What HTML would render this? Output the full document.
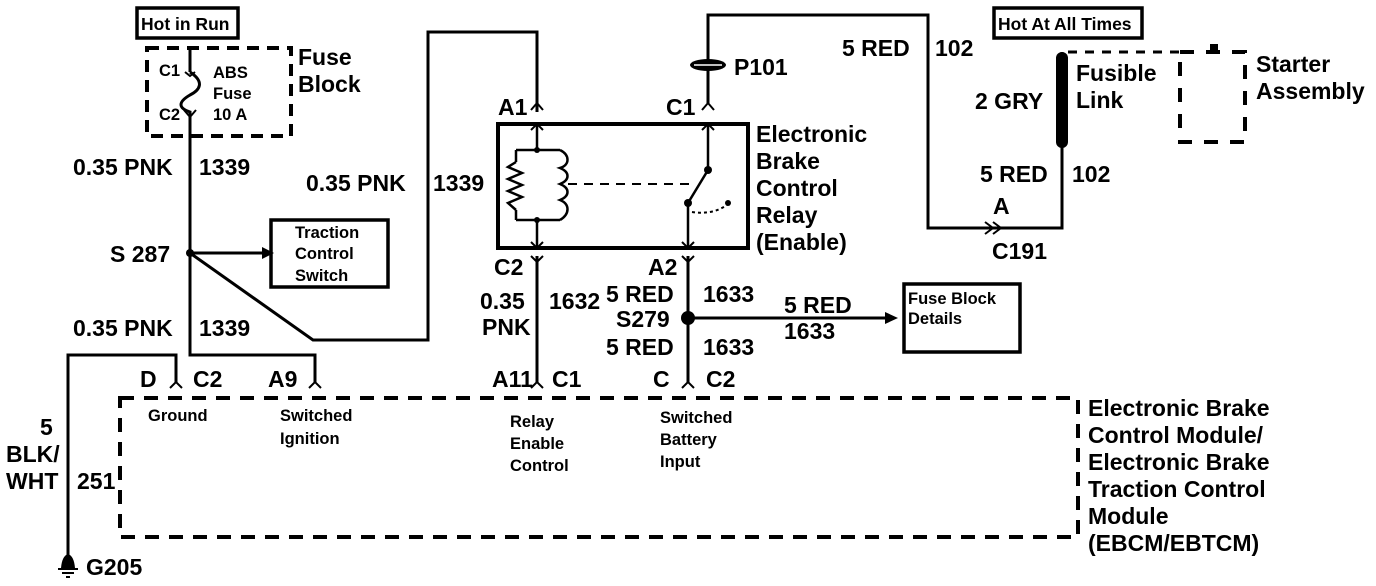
<!DOCTYPE html>
<html><head><meta charset="utf-8"><style>
html,body{margin:0;padding:0;background:#fff}
svg{display:block}
text{font-family:"Liberation Sans",sans-serif;font-weight:bold;fill:#000}
.b{font-size:23px}
.s{font-size:16.5px}
</style></head><body>
<svg width="1376" height="586" viewBox="0 0 1376 586" xmlns="http://www.w3.org/2000/svg">
<g fill="none" stroke="#000" stroke-width="3">
<rect x="137" y="8" width="101" height="30" stroke-width="3.5"/>
<rect x="147" y="48" width="144" height="88" stroke-dasharray="12,8" stroke-width="4"/>
<path d="M190 48 V72 M190 72 C205 82,200 90,190 95 C178 102,178 108,190 112 V355 H315 V382"/>
<path d="M185 72 L190 76 L195 72" stroke-width="2"/>
<path d="M184 110 L190 117 L196 110" stroke-width="2"/>
<path d="M190 253 H262"/>
<path d="M190 253 L313 340 H428 V32 H537 V112"/>
<rect x="271" y="220" width="117" height="67" stroke-width="3.5"/>
<path d="M68 560 V355 H176 V382"/>
<rect x="498" y="124" width="250" height="124" stroke-width="4"/>
<path d="M537 124 V150 M537 220 V248" stroke-width="2.5"/>
<path d="M516 150 H560 M516 220 H560 M516 150 V162 M516 210 V220" stroke-width="2.5"/>
<path d="M516 162 L508 167 L522 173 L508 179 L522 185 L508 191 L522 197 L508 203 L516 210" stroke-width="2.5"/>
<path d="M560 150 C570 155,570 165,560 168 C570 172,570 180,560 184 C570 188,570 196,560 200 C570 204,570 214,560 220" stroke-width="2.5"/>
<path d="M568 184 H694" stroke-dasharray="9,7" stroke-width="2"/>
<path d="M708 124 V170 L688 203 V248" stroke-width="2.5"/>
<path d="M692 212 C705 214,718 212,728 204" stroke-dasharray="3,3" stroke-width="2"/>
<path d="M531 110 L537 103 L543 110 M531 130 L537 124 L543 130 M702 110 L708 103 L714 110 M702 130 L708 124 L714 130 M531 242 L537 248 L543 242 M682 242 L688 248 L694 242 M531 256 L537 262 L543 256 M682 256 L688 262 L694 256" stroke-width="2"/>
<path d="M708 103 V15 H928 V228 H1062 V52"/>
<path d="M985 222 L993 228 L985 234 M993 222 L1001 228 L993 234" stroke-width="2"/>
<path d="M537 256 V382 M688 256 V382"/>
<path d="M688 318 H885"/>
<path d="M170 388 L176 382 L182 388 M309 388 L315 382 L321 388 M531 388 L537 382 L543 388 M682 388 L688 382 L694 388" stroke-width="2"/>
<rect x="904" y="284" width="116" height="68" stroke-width="3.5"/>
<rect x="120" y="398" width="958" height="139" stroke-dasharray="14,10" stroke-width="4"/>
<rect x="994" y="8" width="148" height="30" stroke-width="3.5"/>
<path d="M1068 52 H1180" stroke-dasharray="9,8" stroke-width="3"/>
<rect x="1180" y="52" width="65" height="90" stroke-dasharray="14,12" stroke-width="4"/>
</g>
<rect x="1056" y="52" width="12" height="96" rx="6" fill="#000"/>
<circle cx="190" cy="253" r="4" fill="#000"/>
<polygon points="262,247 274,253 262,259" fill="#000"/>
<polygon points="885,312 898,318 885,324" fill="#000"/>
<circle cx="688" cy="318" r="7" fill="#000"/>
<circle cx="537" cy="150" r="3" fill="#000"/><circle cx="537" cy="220" r="3" fill="#000"/>
<circle cx="708" cy="170" r="4" fill="#000"/><circle cx="688" cy="203" r="4" fill="#000"/>
<circle cx="728" cy="203" r="3" fill="#000"/>
<ellipse cx="708" cy="65" rx="18" ry="6" fill="#000"/>
<line x1="694" y1="65" x2="722" y2="65" stroke="#fff" stroke-width="1.5"/>
<path d="M1210 50 h8 v-6 h-8z" fill="#000"/>
<path d="M61 568 Q62 556 68 554 Q74 556 75 568 Z" fill="#000"/>
<path d="M58 569 H78 M62 573 H74 M66 577 H70" stroke="#000" stroke-width="2"/>
<text x="141" y="30" style="font-size:17.5px">Hot in Run</text>
<text x="159" y="76" class="s">C1</text>
<text x="159" y="120" class="s">C2</text>
<text x="213" y="78" class="s">ABS</text>
<text x="213" y="99" class="s">Fuse</text>
<text x="213" y="120" class="s">10 A</text>
<text x="298" y="65" class="b">Fuse</text>
<text x="298" y="92" class="b">Block</text>
<text x="73" y="175" class="b">0.35 PNK</text>
<text x="199" y="175" class="b">1339</text>
<text x="306" y="191" class="b">0.35 PNK</text>
<text x="433" y="191" class="b">1339</text>
<text x="110" y="262" class="b">S 287</text>
<text x="295" y="238" class="s">Traction</text>
<text x="295" y="259" class="s">Control</text>
<text x="295" y="281" class="s">Switch</text>
<text x="73" y="336" class="b">0.35 PNK</text>
<text x="199" y="336" class="b">1339</text>
<text x="140" y="387" class="b">D</text>
<text x="193" y="387" class="b">C2</text>
<text x="268" y="387" class="b">A9</text>
<text x="492" y="387" class="b">A11</text>
<text x="552" y="387" class="b">C1</text>
<text x="653" y="387" class="b">C</text>
<text x="706" y="387" class="b">C2</text>
<text x="148" y="421" class="s">Ground</text>
<text x="280" y="421" class="s">Switched</text>
<text x="280" y="444" class="s">Ignition</text>
<text x="510" y="427" class="s">Relay</text>
<text x="510" y="449" class="s">Enable</text>
<text x="510" y="471" class="s">Control</text>
<text x="660" y="423" class="s">Switched</text>
<text x="660" y="445" class="s">Battery</text>
<text x="660" y="467" class="s">Input</text>
<text x="40" y="435" class="b">5</text>
<text x="6" y="462" class="b">BLK/</text>
<text x="6" y="489" class="b">WHT</text>
<text x="77" y="489" class="b">251</text>
<text x="86" y="575" class="b">G205</text>
<text x="498" y="115" class="b">A1</text>
<text x="666" y="115" class="b">C1</text>
<text x="734" y="75" class="b">P101</text>
<text x="842" y="56" class="b">5 RED</text>
<text x="935" y="56" class="b">102</text>
<text x="756" y="142" class="b">Electronic</text>
<text x="756" y="169" class="b">Brake</text>
<text x="756" y="196" class="b">Control</text>
<text x="756" y="223" class="b">Relay</text>
<text x="756" y="250" class="b">(Enable)</text>
<text x="494" y="275" class="b">C2</text>
<text x="648" y="275" class="b">A2</text>
<text x="480" y="309" class="b">0.35</text>
<text x="482" y="335" class="b">PNK</text>
<text x="549" y="309" class="b">1632</text>
<text x="606" y="302" class="b">5 RED</text>
<text x="703" y="302" class="b">1633</text>
<text x="616" y="327" class="b">S279</text>
<text x="606" y="355" class="b">5 RED</text>
<text x="703" y="355" class="b">1633</text>
<text x="784" y="313" class="b">5 RED</text>
<text x="784" y="339" class="b">1633</text>
<text x="908" y="304" class="s">Fuse Block</text>
<text x="908" y="324" class="s">Details</text>
<text x="975" y="109" class="b">2 GRY</text>
<text x="1076" y="81" class="b">Fusible</text>
<text x="1076" y="108" class="b">Link</text>
<text x="980" y="182" class="b">5 RED</text>
<text x="1072" y="182" class="b">102</text>
<text x="993" y="214" class="b">A</text>
<text x="992" y="259" class="b">C191</text>
<text x="998" y="30" style="font-size:17.5px">Hot At All Times</text>
<text x="1256" y="72" class="b">Starter</text>
<text x="1256" y="99" class="b">Assembly</text>
<text x="1088" y="416" class="b">Electronic Brake</text>
<text x="1088" y="443" class="b">Control Module/</text>
<text x="1088" y="470" class="b">Electronic Brake</text>
<text x="1088" y="497" class="b">Traction Control</text>
<text x="1088" y="524" class="b">Module</text>
<text x="1088" y="551" class="b">(EBCM/EBTCM)</text>
</svg>
</body></html>
